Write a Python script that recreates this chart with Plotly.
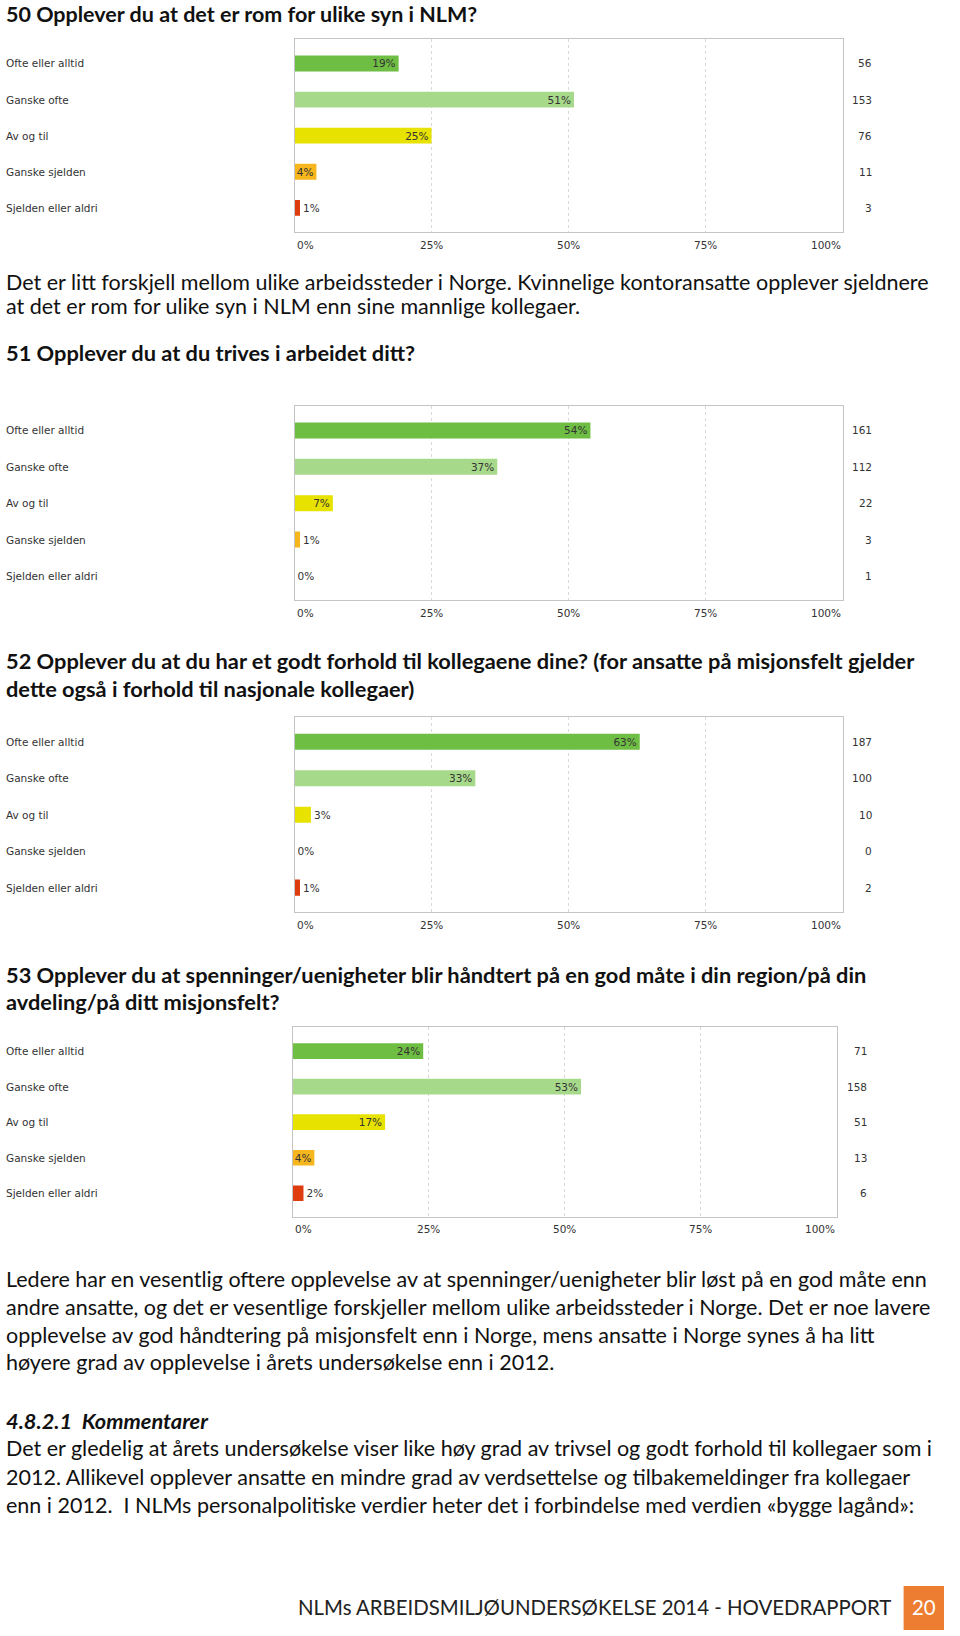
import plotly.graph_objects as go

W, H = 960, 1636

categories = ["Ofte eller alltid", "Ganske ofte", "Av og til", "Ganske sjelden", "Sjelden eller aldri"]
bar_colors = ["#6FBE44", "#A7D98B", "#E8E200", "#F6B71E", "#DE3B0E"]
x_ticks = [0, 25, 50, 75, 100]
x_tick_labels = ["0%", "25%", "50%", "75%", "100%"]

# 50 Opplever du at det er rom for ulike syn i NLM?
q50_pct = [19, 51, 25, 4, 1]
q50_n = [56, 153, 76, 11, 3]
# 51 Opplever du at du trives i arbeidet ditt?
q51_pct = [54, 37, 7, 1, 0]
q51_n = [161, 112, 22, 3, 1]
# 52 Opplever du at du har et godt forhold til kollegaene dine?
q52_pct = [63, 33, 3, 0, 1]
q52_n = [187, 100, 10, 0, 2]
# 53 Opplever du at spenninger/uenigheter blir håndtert på en god måte?
q53_pct = [24, 53, 17, 4, 2]
q53_n = [71, 158, 51, 13, 6]

CHART_FONT = "DejaVu Sans"
TEXT_FONT = "Lato"
INK = "#333333"
BODY = 21.5
HEAD = 21.8

fig = go.Figure()


def py(px):
    # pixel row -> paper y
    return 1 - px / H


def add_chart(idx, pct, counts, left, right, top, bottom, tick_y, count_x):
    xa = "x" if idx == 1 else f"x{idx}"
    ya = "y" if idx == 1 else f"y{idx}"
    fig.add_trace(go.Bar(
        x=pct, y=categories, orientation="h",
        xaxis=xa, yaxis=ya,
        marker=dict(color=bar_colors, line=dict(width=0)),
        width=0.44,
        text=[f"{p}%" for p in pct],
        textposition=["inside" if p >= 4 else "outside" for p in pct],
        insidetextanchor="end",
        constraintext="none",
        textangle=0,
        textfont=dict(family=CHART_FONT, size=10.5, color=INK),
        cliponaxis=False,
        showlegend=False,
        hoverinfo="skip",
    ))
    fig.layout[f"xaxis{'' if idx == 1 else idx}"] = dict(
        domain=[left / W, right / W], anchor=ya, range=[0, 100],
        tickvals=x_ticks, showticklabels=False, ticks="",
        showgrid=True, gridcolor="#D9D9D9", griddash="3px,3px", gridwidth=1,
        showline=True, mirror=True, linecolor="#C4C4C4", linewidth=1,
        zeroline=False, fixedrange=True,
    )
    fig.layout[f"yaxis{'' if idx == 1 else idx}"] = dict(
        domain=[py(bottom), py(top)], anchor=xa,
        type="category", categoryorder="array", categoryarray=categories,
        range=[len(categories) - 1 + 0.66, -0.67],
        showticklabels=False, ticks="", showgrid=False,
        showline=True, mirror=True, linecolor="#C4C4C4", linewidth=1,
        zeroline=False, fixedrange=True,
    )
    # category labels on the left and counts on the right
    for cat, n in zip(categories, counts):
        fig.add_annotation(x=4 / W, xref="paper", y=cat, yref=ya, text=cat,
                           xanchor="left", yanchor="middle", showarrow=False,
                           font=dict(family=CHART_FONT, size=10.5, color=INK))
        fig.add_annotation(x=count_x / W, xref="paper", y=cat, yref=ya, text=str(n),
                           xanchor="right", yanchor="middle", showarrow=False,
                           font=dict(family=CHART_FONT, size=10.5, color=INK))
    # x tick labels, end labels kept inside the box
    for i, (tv, tl) in enumerate(zip(x_ticks, x_tick_labels)):
        anchor = "left" if i == 0 else ("right" if i == len(x_ticks) - 1 else "center")
        fig.add_annotation(x=tv, xref=xa, y=py(tick_y), yref="paper", text=tl,
                           xanchor=anchor, yanchor="middle", showarrow=False,
                           font=dict(family=CHART_FONT, size=10.5, color=INK))


def add_text(y, text, size=BODY, x=4, anchor="left", color="#111111", family=TEXT_FONT):
    fig.add_annotation(x=x / W, xref="paper", y=py(y), yref="paper", text=text,
                       xanchor=anchor, yanchor="middle", showarrow=False,
                       font=dict(family=family, size=size, color=color))


add_chart(1, q50_pct, q50_n, 294.5, 842.5, 39.3, 231.7, 245, 874)
add_chart(2, q51_pct, q51_n, 294.5, 842.5, 406, 600, 613.3, 874)
add_chart(3, q52_pct, q52_n, 294.5, 842.5, 717.3, 911.7, 925, 874)
add_chart(4, q53_pct, q53_n, 292.6, 836.8, 1027.3, 1216.7, 1229.3, 868.6)

add_text(13.6, "<b>50 Opplever du at det er rom for ulike syn i NLM?</b>", size=21.5)
add_text(281.7, "Det er litt forskjell mellom ulike arbeidssteder i Norge. Kvinnelige kontoransatte opplever sjeldnere")
add_text(305.7, "at det er rom for ulike syn i NLM enn sine mannlige kollegaer.")
add_text(352.7, "<b>51 Opplever du at du trives i arbeidet ditt?</b>", size=HEAD)
add_text(660.5, "<b>52 Opplever du at du har et godt forhold til kollegaene dine? (for ansatte på misjonsfelt gjelder</b>", size=HEAD)
add_text(688.7, "<b>dette også i forhold til nasjonale kollegaer)</b>", size=HEAD)
add_text(974.6, "<b>53 Opplever du at spenninger/uenigheter blir håndtert på en god måte i din region/på din</b>", size=HEAD)
add_text(1001.8, "<b>avdeling/på ditt misjonsfelt?</b>", size=HEAD)

add_text(1279.3, "Ledere har en vesentlig oftere opplevelse av at spenninger/uenigheter blir løst på en god måte enn")
add_text(1306.5, "andre ansatte, og det er vesentlige forskjeller mellom ulike arbeidssteder i Norge. Det er noe lavere")
add_text(1334.6, "opplevelse av god håndtering på misjonsfelt enn i Norge, mens ansatte i Norge synes å ha litt")
add_text(1361.8, "høyere grad av opplevelse i årets undersøkelse enn i 2012.")
add_text(1420.2, "<b><i>4.8.2.1  Kommentarer</i></b>", size=HEAD)
add_text(1448.4, "Det er gledelig at årets undersøkelse viser like høy grad av trivsel og godt forhold til kollegaer som i")
add_text(1476.6, "2012. Allikevel opplever ansatte en mindre grad av verdsettelse og tilbakemeldinger fra kollegaer")
add_text(1504.7, "enn i 2012.  I NLMs personalpolitiske verdier heter det i forbindelse med verdien «bygge lagånd»:")

# footer
fig.add_shape(type="rect", xref="paper", yref="paper",
              x0=903.6 / W, x1=944 / W, y0=py(1630), y1=py(1586),
              fillcolor="#ED7D31", line=dict(width=0))
add_text(1607, "NLMs ARBEIDSMILJØUNDERSØKELSE 2014 - HOVEDRAPPORT", size=20.4, x=893, anchor="right", color="#222222")
add_text(1607, "20", size=20.4, x=923.8, anchor="center", color="#FFFFFF")

fig.update_layout(
    width=W, height=H,
    margin=dict(l=0, r=0, t=0, b=0),
    paper_bgcolor="white", plot_bgcolor="white",
    font=dict(family=CHART_FONT, color=INK),
    bargap=0.5,
)

fig.write_html("out.html", config={"displayModeBar": False},
               post_script="document.body.style.margin='0';")
